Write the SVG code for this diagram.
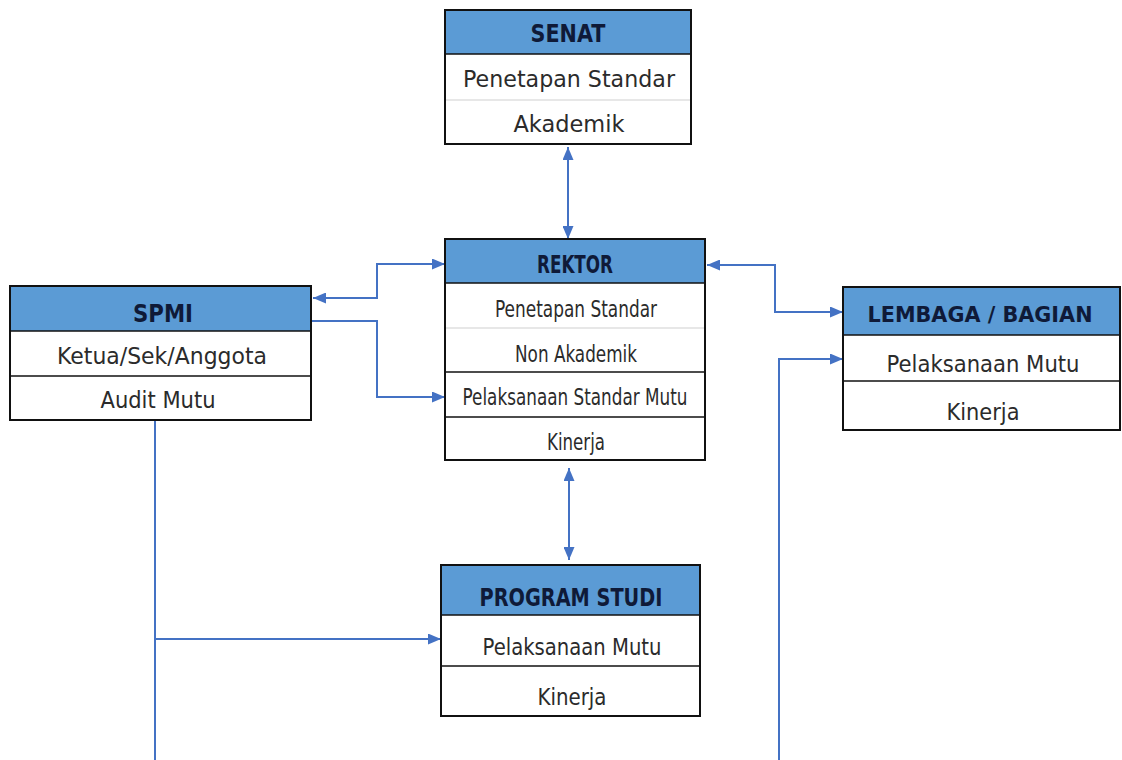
<svg xmlns="http://www.w3.org/2000/svg" width="1122" height="760" viewBox="0 0 1122 760">
<defs>
<marker id="ah" viewBox="0 0 13 11" refX="13" refY="5.5" markerWidth="13" markerHeight="11" markerUnits="userSpaceOnUse" orient="auto-start-reverse">
<path d="M0,0 L13,5.5 L0,11 z" fill="#4472C4"/>
</marker>
<style>
.hdr{fill:#5B9BD5;stroke:none}
.box{fill:#fff;stroke:none}
.frame{fill:none;stroke:#111;stroke-width:2}
.div{stroke:#111;stroke-width:1.5}
.ldiv{stroke:#d0d0d0;stroke-width:1.2}
.ht{font-family:"DejaVu Sans","Liberation Sans",sans-serif;font-weight:bold;font-size:24px;fill:#0f1a38;text-anchor:middle}
.bt{font-family:"DejaVu Sans","Liberation Sans",sans-serif;font-size:23.5px;fill:#2b2b2b;text-anchor:middle}
.c{fill:none;stroke:#4472C4;stroke-width:2}
</style>
</defs>
<rect width="1122" height="760" fill="#fff"/>

<g id="connectors">
<path class="c" d="M568,147 L568,239" marker-start="url(#ah)" marker-end="url(#ah)"/>
<path class="c" d="M569,468 L569,560" marker-start="url(#ah)" marker-end="url(#ah)"/>
<path class="c" d="M313,298 L377,298 L377,264 L445,264" marker-start="url(#ah)" marker-end="url(#ah)"/>
<path class="c" d="M312,321 L377,321 L377,397 L445,397" marker-end="url(#ah)"/>
<path class="c" d="M707,265 L775,265 L775,312 L843,312" marker-start="url(#ah)" marker-end="url(#ah)"/>
<path class="c" d="M779,760 L779,359 L843,359" marker-end="url(#ah)"/>
<path class="c" d="M155,420 L155,760"/>
<path class="c" d="M155,639 L441,639" marker-end="url(#ah)"/>
</g>

<g id="senat">
<rect class="box" x="445" y="10" width="246" height="134"/>
<rect class="hdr" x="445" y="10" width="246" height="44"/>
<line class="div" x1="445" y1="54" x2="691" y2="54"/>
<line class="ldiv" x1="445" y1="100" x2="691" y2="100"/>
<rect class="frame" x="445" y="10" width="246" height="134"/>
<text class="ht" x="568" y="42" textLength="75" lengthAdjust="spacingAndGlyphs">SENAT</text>
<text class="bt" x="569" y="87" textLength="212" lengthAdjust="spacingAndGlyphs">Penetapan Standar</text>
<text class="bt" x="569" y="132" textLength="111" lengthAdjust="spacingAndGlyphs">Akademik</text>
</g>

<g id="rektor">
<rect class="box" x="445" y="239" width="260" height="221"/>
<rect class="hdr" x="445" y="239" width="260" height="44"/>
<line class="div" x1="445" y1="283" x2="705" y2="283"/>
<line class="ldiv" x1="445" y1="328" x2="705" y2="328"/>
<line class="div" x1="445" y1="372" x2="705" y2="372"/>
<line class="div" x1="445" y1="417" x2="705" y2="417"/>
<rect class="frame" x="445" y="239" width="260" height="221"/>
<text class="ht" x="575" y="273" textLength="76" lengthAdjust="spacingAndGlyphs">REKTOR</text>
<text class="bt" x="576" y="317" textLength="162" lengthAdjust="spacingAndGlyphs">Penetapan Standar</text>
<text class="bt" x="576" y="362" textLength="122" lengthAdjust="spacingAndGlyphs">Non Akademik</text>
<text class="bt" x="575" y="405" textLength="225" lengthAdjust="spacingAndGlyphs">Pelaksanaan Standar Mutu</text>
<text class="bt" x="576" y="450" textLength="58" lengthAdjust="spacingAndGlyphs">Kinerja</text>
</g>

<g id="spmi">
<rect class="box" x="10" y="286" width="301" height="134"/>
<rect class="hdr" x="10" y="286" width="301" height="45"/>
<line class="div" x1="10" y1="331" x2="311" y2="331"/>
<line class="div" x1="10" y1="376" x2="311" y2="376"/>
<rect class="frame" x="10" y="286" width="301" height="134"/>
<text class="ht" x="163" y="322" textLength="60" lengthAdjust="spacingAndGlyphs">SPMI</text>
<text class="bt" x="162" y="364" textLength="210" lengthAdjust="spacingAndGlyphs">Ketua/Sek/Anggota</text>
<text class="bt" x="158" y="408" textLength="115" lengthAdjust="spacingAndGlyphs">Audit Mutu</text>
</g>

<g id="lembaga">
<rect class="box" x="843" y="287" width="277" height="143"/>
<rect class="hdr" x="843" y="287" width="277" height="48"/>
<line class="div" x1="843" y1="335" x2="1120" y2="335"/>
<line class="div" x1="843" y1="381" x2="1120" y2="381"/>
<rect class="frame" x="843" y="287" width="277" height="143"/>
<text class="ht" x="980" y="322" style="font-size:21px" textLength="225" lengthAdjust="spacingAndGlyphs">LEMBAGA / BAGIAN</text>
<text class="bt" x="983" y="372" textLength="193" lengthAdjust="spacingAndGlyphs">Pelaksanaan Mutu</text>
<text class="bt" x="983" y="420" textLength="73" lengthAdjust="spacingAndGlyphs">Kinerja</text>
</g>

<g id="program-studi">
<rect class="box" x="441" y="565" width="259" height="151"/>
<rect class="hdr" x="441" y="565" width="259" height="50"/>
<line class="div" x1="441" y1="615" x2="700" y2="615"/>
<line class="div" x1="441" y1="666" x2="700" y2="666"/>
<rect class="frame" x="441" y="565" width="259" height="151"/>
<text class="ht" x="571" y="606" textLength="183" lengthAdjust="spacingAndGlyphs">PROGRAM STUDI</text>
<text class="bt" x="572" y="655" textLength="179" lengthAdjust="spacingAndGlyphs">Pelaksanaan Mutu</text>
<text class="bt" x="572" y="705" textLength="69" lengthAdjust="spacingAndGlyphs">Kinerja</text>
</g>
</svg>
